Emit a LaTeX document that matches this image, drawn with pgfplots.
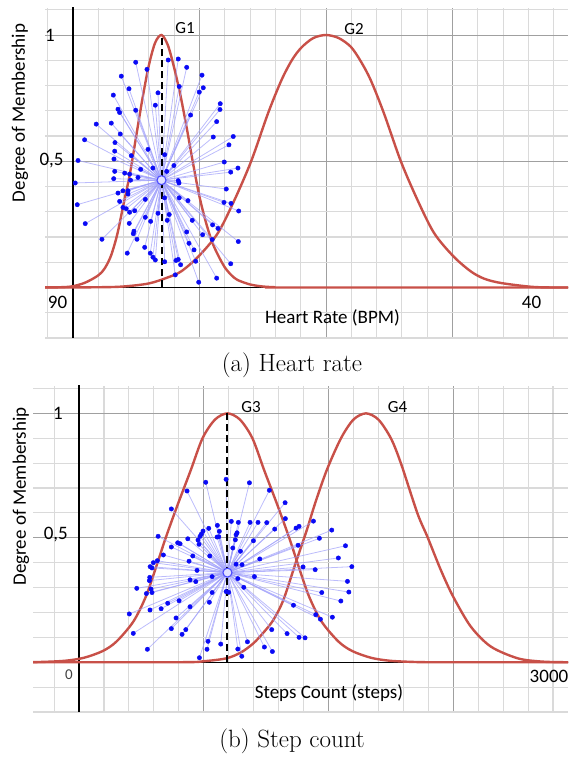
\documentclass[border=0pt]{standalone}
\usepackage{pgfplots}
\usepackage{pgfplotstable}
\pgfplotsset{compat=1.18}
\usepackage{fontspec}
\newfontfamily\carfont{Carlito}
\definecolor{curvered}{RGB}{200,80,72}
\definecolor{lav}{RGB}{160,160,250}
\definecolor{dotblue}{RGB}{10,10,245}
\definecolor{gridmaj}{RGB}{160,160,160}
\definecolor{gridmin}{RGB}{218,218,218}

\pgfplotstableread{
x y
0.496 0.892
0.585 0.864
0.382 0.837
0.443 0.787
0.319 0.762
0.672 0.771
0.651 0.722
0.356 0.706
0.369 0.693
0.496 0.702
0.184 0.647
0.303 0.651
0.374 0.608
0.092 0.585
0.332 0.574
0.593 0.547
0.330 0.540
0.461 0.522
0.725 0.526
0.040 0.503
0.324 0.509
0.330 0.460
0.409 0.453
0.448 0.449
0.535 0.468
0.632 0.473
0.514 0.436
0.322 0.431
0.455 0.425
0.018 0.414
0.395 0.383
0.435 0.383
0.356 0.374
0.435 0.370
0.572 0.349
0.369 0.341
0.725 0.355
0.034 0.328
0.395 0.317
0.421 0.312
0.488 0.304
0.448 0.298
0.672 0.294
0.572 0.278
0.614 0.262
0.097 0.253
0.445 0.254
0.482 0.223
0.477 0.213
0.229 0.191
0.506 0.191
0.567 0.159
0.429 0.136
0.611 0.136
0.632 0.120
0.651 0.109
0.725 0.102
0.753 0.901
0.832 0.905
0.899 0.872
1.020 0.841
0.840 0.796
1.030 0.791
0.998 0.774
1.164 0.728
1.162 0.705
0.930 0.683
1.136 0.657
1.267 0.598
1.109 0.596
1.233 0.565
0.798 0.483
1.196 0.497
1.304 0.473
0.741 0.460
1.247 0.457
0.832 0.423
0.838 0.414
1.212 0.390
0.840 0.355
0.909 0.344
1.194 0.337
1.249 0.333
1.310 0.303
0.761 0.289
0.745 0.266
0.943 0.266
1.104 0.248
1.146 0.234
0.899 0.220
1.025 0.209
1.101 0.190
1.307 0.182
0.917 0.175
0.957 0.149
0.832 0.111
0.814 0.107
0.970 0.104
0.851 0.090
1.247 0.094
0.809 0.050
1.136 0.037
0.994 0.021
}\ptsA

\pgfplotstableread{
x y
1.016 0.723
1.179 0.735
0.866 0.688
0.740 0.616
1.221 0.566
1.109 0.550
1.040 0.538
1.125 0.526
0.994 0.527
0.981 0.515
0.970 0.506
1.107 0.503
1.120 0.504
0.634 0.506
0.872 0.496
0.954 0.491
0.791 0.480
0.810 0.476
0.962 0.474
0.740 0.463
1.233 0.459
0.912 0.427
1.048 0.427
0.676 0.431
0.628 0.408
0.596 0.400
0.882 0.406
0.570 0.384
0.585 0.379
0.946 0.369
1.067 0.344
0.890 0.331
0.936 0.324
0.567 0.341
0.564 0.328
0.463 0.297
0.577 0.294
0.585 0.280
0.540 0.276
1.179 0.284
1.200 0.281
1.067 0.280
0.802 0.247
0.711 0.237
1.045 0.241
0.890 0.223
0.658 0.215
0.569 0.210
0.403 0.194
0.778 0.178
0.740 0.135
0.856 0.131
0.826 0.112
0.435 0.116
1.034 0.084
1.136 0.073
1.026 0.052
0.548 0.052
0.965 0.018
1.366 0.721
1.526 0.691
1.652 0.641
1.654 0.577
1.277 0.562
1.371 0.562
1.435 0.562
1.505 0.561
1.569 0.535
1.740 0.539
1.764 0.546
1.879 0.567
2.026 0.531
1.267 0.520
1.259 0.512
1.253 0.492
1.398 0.488
1.927 0.498
1.294 0.446
1.756 0.470
2.136 0.468
1.449 0.415
2.079 0.419
1.259 0.394
1.307 0.392
1.796 0.383
1.893 0.372
2.187 0.384
1.273 0.336
1.406 0.344
2.152 0.325
1.321 0.301
1.946 0.280
2.163 0.282
2.099 0.246
1.719 0.229
1.898 0.191
1.935 0.173
2.031 0.181
1.545 0.131
1.668 0.115
1.764 0.100
1.812 0.098
1.350 0.082
1.486 0.061
1.550 0.043
1.273 0.053
1.305 0.024
}\ptsB

\pgfplotsset{
  memb/.style={
    scale only axis, clip=true,
    axis line style={draw=none},
    major tick length=0pt, minor tick length=0pt,
    xticklabels={,,,}, yticklabels={,,},
    grid=both,
    major grid style={gridmaj, line width=0.9pt},
    minor grid style={gridmin, line width=1.1pt},
    ytick={0,0.5,1},
    minor ytick={-0.2,-0.1,0.1,0.2,0.3,0.4,0.6,0.7,0.8,0.9,1.1},
    xtick={0,1,2,3},
    minor xtick={-0.2,0.2,0.4,0.6,0.8,1.2,1.4,1.6,1.8,2.2,2.4,2.6,2.8,3.2,3.4,3.6,3.8},
  },
  redcurve/.style={curvered, line width=2.4pt, smooth, tension=0.5, no markers},
  star/.style={lav, line width=0.8pt, opacity=0.7, no markers},
  dots/.style={only marks, mark=*, mark size=2.2pt, dotblue, mark options={draw=dotblue, fill=dotblue}},
}

\begin{document}
\begin{tikzpicture}
\useasboundingbox (0pt,0pt) rectangle (568pt,760pt);

% ---------- Panel (a) ----------
\begin{axis}[memb, at={(45pt,422pt)}, anchor=south west,
  width=523pt, height=330pt,
  xmin=-0.221, xmax=3.913, ymin=-0.2, ymax=1.107]
\addplot[black, line width=1.4pt, no markers] coordinates {(0,-0.3) (0,1.2)};
\addplot[black, line width=1.4pt, no markers] coordinates {(-0.5,0) (4.2,0)};
\addplot[redcurve] coordinates {
(-0.3,0) (-0.1,0.001) (0,0.005) (0.1,0.02) (0.2,0.048) (0.25,0.075) (0.3,0.125)
(0.35,0.21) (0.4,0.33) (0.45,0.45) (0.5,0.6) (0.55,0.75) (0.6,0.88) (0.65,0.97)
(0.7,1) (0.75,0.96) (0.8,0.87) (0.85,0.76) (0.9,0.63) (0.95,0.49) (1.0,0.36)
(1.05,0.26) (1.1,0.18) (1.15,0.125) (1.2,0.08) (1.25,0.05) (1.3,0.03) (1.4,0.012)
(1.5,0.004) (1.6,0.001) (1.7,0) (4.2,0)};
\addplot[redcurve] coordinates {
(-0.3,0) (0.2,0.001) (0.4,0.004) (0.6,0.016) (0.75,0.04) (0.856,0.064) (0.994,0.124)
(1.146,0.216) (1.278,0.348) (1.41,0.502) (1.542,0.69) (1.647,0.82) (1.73,0.9)
(1.805,0.95) (1.9,0.988) (2,1) (2.1,0.988) (2.195,0.954) (2.27,0.9) (2.353,0.822)
(2.458,0.69) (2.59,0.502) (2.722,0.348) (2.854,0.216) (3.006,0.124) (3.144,0.064)
(3.25,0.035) (3.381,0.018) (3.618,0.003) (3.8,0) (4.2,0)};
\addplot[star, quiver={u={0.70-\thisrow{x}}, v={0.425-\thisrow{y}}}] table[x=x,y=y] {\ptsA};
\addplot[black, line width=2pt, dash pattern=on 7pt off 4pt, no markers] coordinates {(0.70,0) (0.70,1)};
\addplot[dots] table[x=x,y=y] {\ptsA};
\addplot[only marks, mark=*, mark size=4.5pt, mark options={fill={rgb,255:red,225;green,225;blue,255}, draw=blue!70!white, line width=1.1pt}] coordinates {(0.70,0.425)};
\end{axis}

% ---------- Panel (b) ----------
\begin{axis}[memb, at={(33pt,48pt)}, anchor=south west,
  width=535pt, height=326pt,
  xmin=-0.369, xmax=3.92, ymin=-0.2, ymax=1.11]
\addplot[black, line width=1.4pt, no markers] coordinates {(0,-0.3) (0,1.2)};
\addplot[black, line width=1.4pt, no markers] coordinates {(-0.5,0) (4.2,0)};
\addplot[redcurve] coordinates {
(-0.5,0) (-0.31,0.001) (-0.11,0.006) (0.04,0.018) (0.19,0.045) (0.30,0.083)
(0.435,0.163) (0.535,0.263) (0.615,0.378) (0.695,0.5) (0.79,0.632) (0.896,0.772)
(0.99,0.9) (1.09,0.975) (1.19,1) (1.29,0.975) (1.39,0.9) (1.484,0.772) (1.59,0.632)
(1.685,0.5) (1.765,0.378) (1.845,0.263) (1.945,0.163) (2.08,0.083) (2.19,0.045)
(2.34,0.018) (2.49,0.006) (2.69,0.001) (2.89,0) (4.2,0)};
\addplot[redcurve] coordinates {
(-0.5,0) (0.8,0) (1.0,0.004) (1.184,0.016) (1.3,0.04) (1.398,0.076) (1.48,0.12)
(1.558,0.17) (1.638,0.25) (1.74,0.404) (1.826,0.531) (1.893,0.639) (1.986,0.772)
(2.1,0.9) (2.2,0.975) (2.30,1) (2.4,0.975) (2.5,0.9) (2.58,0.8) (2.713,0.598)
(2.793,0.504) (2.9,0.371) (3.0,0.263) (3.141,0.143) (3.301,0.063) (3.515,0.016)
(3.7,0.003) (3.9,0) (4.2,0)};
\addplot[star, quiver={u={1.19-\thisrow{x}}, v={0.36-\thisrow{y}}}] table[x=x,y=y] {\ptsB};
\addplot[black, line width=2pt, dash pattern=on 7pt off 4pt, no markers] coordinates {(1.19,0) (1.19,1)};
\addplot[dots] table[x=x,y=y] {\ptsB};
\addplot[only marks, mark=*, mark size=4.5pt, mark options={fill={rgb,255:red,225;green,225;blue,255}, draw=blue!70!white, line width=1.1pt}] coordinates {(1.19,0.36)};
\end{axis}

% ---------- Texts ----------
\begin{scope}[every node/.style={inner sep=0pt, font=\carfont\fontsize{19}{22}\selectfont}]
\node[rotate=90] at (20pt,647pt) {Degree of Membership};
\node at (50pt,725pt) {1};
\node at (51.5pt,599pt) {0,5};
\node at (57.5pt,458pt) {90};
\node at (531.5pt,458pt) {40};
\node at (332.5pt,442pt) {Heart Rate (BPM)};
\node[font=\carfont\fontsize{17}{20}\selectfont] at (185pt,732pt) {G1};
\node[font=\carfont\fontsize{17}{20}\selectfont] at (354pt,731pt) {G2};

\node[rotate=90] at (21pt,263.5pt) {Degree of Membership};
\node at (58pt,347pt) {1};
\node at (55.8pt,225pt) {0,5};
\node[font=\carfont\fontsize{15}{18}\selectfont, text=black!75] at (69pt,85pt) {0};
\node at (549pt,84pt) {3000};
\node at (329pt,67pt) {Steps Count (steps)};
\node[font=\carfont\fontsize{17}{20}\selectfont] at (251pt,353pt) {G3};
\node[font=\carfont\fontsize{17}{20}\selectfont] at (397.5pt,353pt) {G4};
\end{scope}
\node[inner sep=0pt, font=\fontsize{25}{29}\selectfont] at (292pt,395pt) {(a) Heart rate};
\node[inner sep=0pt, font=\fontsize{25}{29}\selectfont] at (292pt,19pt) {(b) Step count};
\end{tikzpicture}
\end{document}
